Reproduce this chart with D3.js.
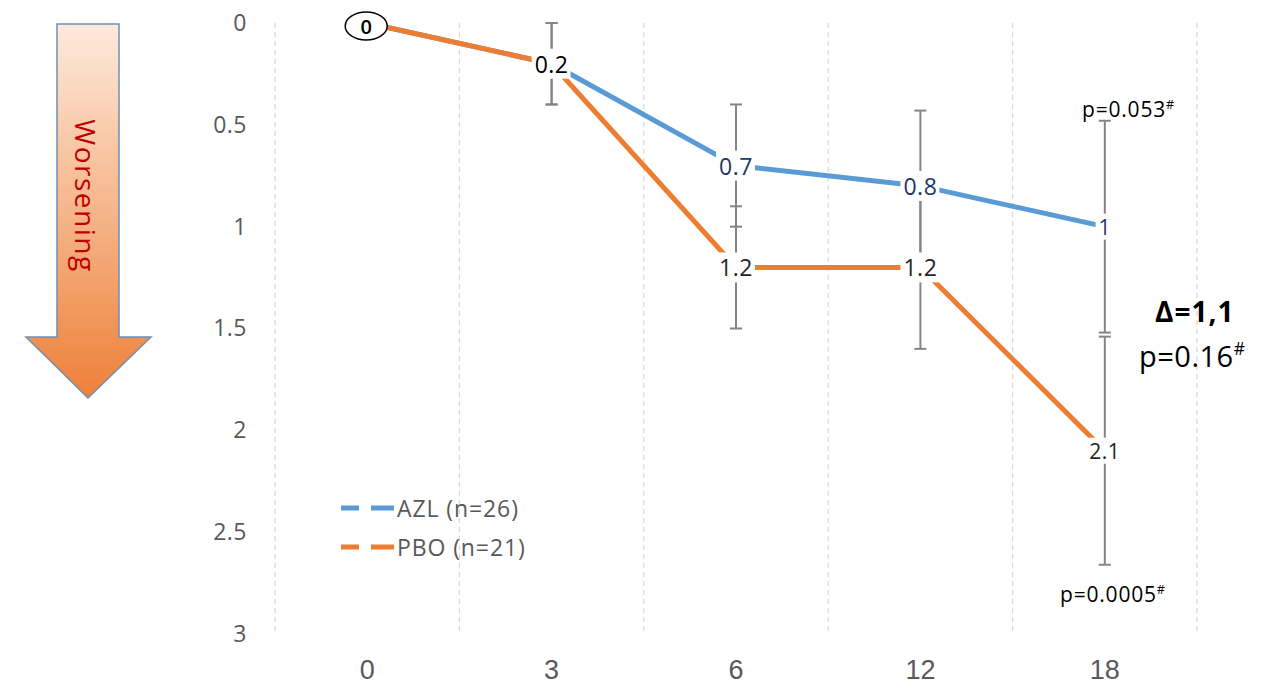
<!DOCTYPE html>
<html>
<head>
<meta charset="utf-8">
<script src="https://cdn.jsdelivr.net/npm/d3@7"></script>
<style>
  html, body { margin: 0; padding: 0; background: #fff; }
  svg { display: block; }
</style>
</head>
<body>
<svg id="chart" width="1269" height="691"></svg>
<script>
// Months of follow-up
const months = ["0", "3", "6", "12", "18"];
// Mean change (higher = worse), per arm
const azl = [0, 0.2, 0.7, 0.8, 1];
const pbo = [0, 0.2, 1.2, 1.2, 2.1];
// Error bar half-widths
const azlErr = [0, 0.2, 0.3, 0.37, 0.52];
const pboErr = [0, 0.2, 0.3, 0.4, 0.56];
// Y tick values
const yTicks = [0, 0.5, 1, 1.5, 2, 2.5, 3];
const seriesNames = ["AZL (n=26)", "PBO (n=21)"];

const svg = d3.select("#chart");
const BLUE = "#5b9bd5", ORANGE = "#ed7d31", GRID = "#d9d9d9", ERR = "#858585";
const SANS = "'Open Sans', sans-serif";

const x = d3.scaleBand().domain(months).range([275, 1197]);
const cx = m => x(m) + x.bandwidth() / 2;
const y = d3.scaleLinear().domain([0, 3]).range([23, 634]);

// Vertical dashed gridlines at category boundaries
const bounds = months.map(m => x(m)).concat([x(months[months.length - 1]) + x.bandwidth()]);
svg.append("g").selectAll("line").data(bounds).join("line")
  .attr("x1", d => d).attr("x2", d => d)
  .attr("y1", y(0)).attr("y2", y(3))
  .attr("stroke", GRID).attr("stroke-width", 1.3).attr("stroke-dasharray", "5,4");

// Y axis (labels only)
const yAxis = svg.append("g").attr("transform", "translate(247,0)")
  .call(d3.axisLeft(y).tickValues(yTicks).tickSize(0).tickPadding(0).tickFormat(d3.format("")));
yAxis.select(".domain").remove();
yAxis.selectAll("text").attr("font-family", SANS).attr("font-size", 23)
  .attr("letter-spacing", 0.5).attr("fill", "#595959");

// X axis (labels only)
const xAxis = svg.append("g").attr("transform", "translate(0,660)")
  .call(d3.axisBottom(x).tickSize(0).tickPadding(0));
xAxis.select(".domain").remove();
xAxis.selectAll("text").attr("font-family", "'Liberation Sans Narrow', 'Arial Narrow', sans-serif")
  .attr("font-size", 27).attr("fill", "#595959");

// Lines
const line = d3.line().x((d, i) => cx(months[i])).y(d => y(d));
svg.append("path").datum(azl).attr("d", line).attr("fill", "none")
  .attr("stroke", BLUE).attr("stroke-width", 5);
svg.append("path").datum(pbo).attr("d", line).attr("fill", "none")
  .attr("stroke", ORANGE).attr("stroke-width", 5);

// Error bars
function errorBars(vals, errs) {
  const g = svg.append("g").attr("stroke", ERR).attr("stroke-width", 2);
  vals.forEach((v, i) => {
    if (errs[i] <= 0) return;
    const X = cx(months[i]);
    const y1 = y(v - errs[i]), y2 = y(v + errs[i]);
    g.append("line").attr("x1", X).attr("x2", X).attr("y1", y1).attr("y2", y2);
    g.append("line").attr("x1", X - 6).attr("x2", X + 6).attr("y1", y1).attr("y2", y1);
    g.append("line").attr("x1", X - 6).attr("x2", X + 6).attr("y1", y2).attr("y2", y2);
  });
}
errorBars(azl, azlErr);
errorBars(pbo, pboErr);

// Data labels with white backing
function label(X, Y, text, color, size) {
  const g = svg.append("g");
  const t = g.append("text").attr("x", X).attr("y", Y).attr("text-anchor", "middle")
    .attr("dominant-baseline", "central").attr("letter-spacing", 0.5)
    .attr("font-family", SANS).attr("font-size", size).attr("fill", color).text(text);
  const b = t.node().getBBox();
  g.insert("rect", "text").attr("x", b.x - 3).attr("y", b.y + 1).attr("width", b.width + 5)
    .attr("height", b.height - 2).attr("fill", "#fff");
  return g;
}
const fmt = d => String(d);
azl.forEach((v, i) => {
  if (i < 2) return;
  label(cx(months[i]), y(v), fmt(v), "#203864", i === 4 ? 21 : 23);
});
pbo.forEach((v, i) => {
  if (i === 0) return;
  label(cx(months[i]), y(v), fmt(v), i === 1 ? "#000" : "#262626", i === 4 ? 21 : 23);
});
// Baseline point, circled
svg.append("ellipse").attr("cx", cx(months[0]) - 1).attr("cy", y(pbo[0]) + 3)
  .attr("rx", 21).attr("ry", 14).attr("fill", "#fff").attr("stroke", "#000").attr("stroke-width", 1.5);
svg.append("text").attr("x", cx(months[0]) - 1).attr("y", y(pbo[0]) + 3)
  .attr("text-anchor", "middle").attr("dominant-baseline", "central").attr("font-weight", 600)
  .attr("font-family", SANS).attr("font-size", 20).attr("fill", "#000").text(fmt(pbo[0]));

// Legend
const legend = svg.append("g");
[BLUE, ORANGE].forEach((c, i) => {
  const ly = 508 + i * 39;
  legend.append("line").attr("x1", 341).attr("x2", 394).attr("y1", ly).attr("y2", ly)
    .attr("stroke", c).attr("stroke-width", 5).attr("stroke-dasharray", "18,12,23")
    .attr("stroke-linecap", "butt");
  legend.append("text").attr("x", 397).attr("y", ly).attr("dominant-baseline", "central")
    .attr("font-family", SANS).attr("font-size", 23).attr("letter-spacing", 0.9).attr("fill", "#595959")
    .text(seriesNames[i]);
});

// p-value annotations
function pText(X, Y, main, size, spacing, weight) {
  const t = svg.append("text").attr("x", X).attr("y", Y)
    .attr("font-family", SANS).attr("font-size", size).attr("letter-spacing", spacing)
    .attr("font-weight", weight || "normal").attr("fill", "#000");
  t.append("tspan").text(main);
  return t;
}
function withHash(t, size) {
  t.append("tspan").attr("font-size", size * 0.6).attr("dy", -size * 0.4).text("#");
}
withHash(pText(1082, 117, "p=0.053", 21, 0.8), 21);
withHash(pText(1060, 602, "p=0.0005", 21, 0.8), 21);
pText(1155, 322, "Δ=1,1", 28, 1, "bold");
withHash(pText(1139, 367, "p=0.16", 29, 0.5), 29);

// "Worsening" arrow with gradient fill
const defs = svg.append("defs");
const grad = defs.append("linearGradient").attr("id", "arrowGrad")
  .attr("x1", 0).attr("y1", 0).attr("x2", 0).attr("y2", 1);
grad.append("stop").attr("offset", "0%").attr("stop-color", "#fdeadc");
grad.append("stop").attr("offset", "100%").attr("stop-color", "#ee8038");
const arrowPts = [[57, 24], [119, 24], [119, 337], [151, 337], [88, 398], [26, 337], [57, 337]];
svg.append("path").attr("d", d3.line()(arrowPts) + "Z")
  .attr("fill", "url(#arrowGrad)").attr("stroke", "#6f8fb3").attr("stroke-width", 1.5);
svg.append("text").attr("transform", "translate(86,196) rotate(90)")
  .attr("text-anchor", "middle").attr("dominant-baseline", "central")
  .attr("font-family", SANS).attr("font-size", 28).attr("letter-spacing", 1.5).attr("fill", "#c00000")
  .text("Worsening");
</script>
</body>
</html>
